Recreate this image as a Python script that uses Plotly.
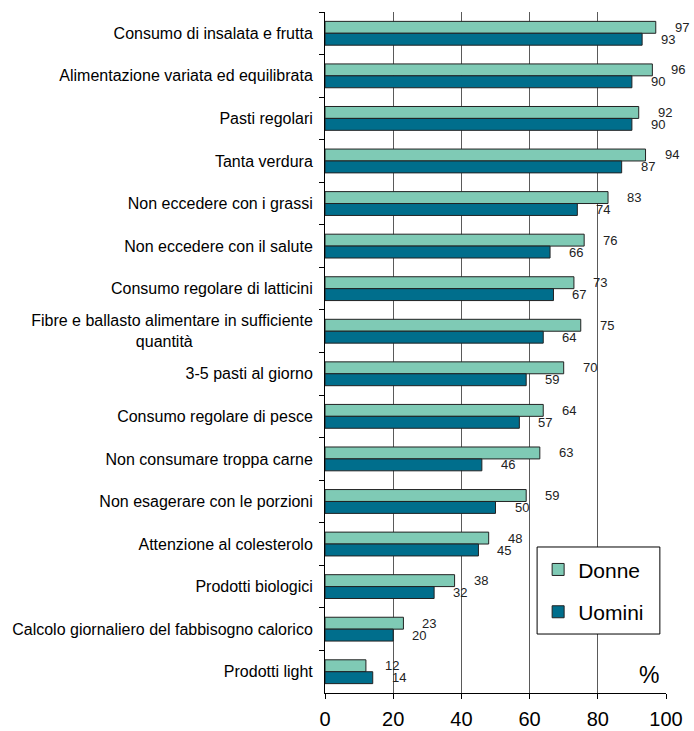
import plotly.graph_objects as go

categories = [
    "Consumo di insalata e frutta",
    "Alimentazione variata ed equilibrata",
    "Pasti regolari",
    "Tanta verdura",
    "Non eccedere con i grassi",
    "Non eccedere con il salute",
    "Consumo regolare di latticini",
    "Fibre e ballasto alimentare in sufficiente<br>quantità" + "\u00a0" * 27,
    "3-5 pasti al giorno",
    "Consumo regolare di pesce",
    "Non consumare troppa carne",
    "Non esagerare con le porzioni",
    "Attenzione al colesterolo",
    "Prodotti biologici",
    "Calcolo giornaliero del fabbisogno calorico",
    "Prodotti light",
]
donne = [97, 96, 92, 94, 83, 76, 73, 75, 70, 64, 63, 59, 48, 38, 23, 12]
uomini = [93, 90, 90, 87, 74, 66, 67, 64, 59, 57, 46, 50, 45, 32, 20, 14]
x_ticks = [0, 20, 40, 60, 80, 100]

fig = go.Figure()
fig.add_trace(go.Bar(
    y=categories, x=donne, orientation="h", name="Donne",
    marker=dict(color="#7FCAB5", line=dict(color="#222222", width=1)),
    legendgroup="d",
))
fig.add_trace(go.Bar(
    y=categories, x=uomini, orientation="h", name="Uomini",
    marker=dict(color="#006E8C", line=dict(color="#222222", width=1)),
    legendgroup="u",
))

annotations = []
for c, d, u in zip(categories, donne, uomini):
    annotations.append(dict(x=d, y=c, xref="x", yref="y", text=str(d), showarrow=False,
                            xanchor="left", yanchor="middle", xshift=17, yshift=6,
                            font=dict(size=13, color="#222222")))
    annotations.append(dict(x=u, y=c, xref="x", yref="y", text=str(u), showarrow=False,
                            xanchor="left", yanchor="middle", xshift=17, yshift=-6,
                            font=dict(size=13, color="#222222")))
annotations.append(dict(x=0.985, y=0.005, xref="paper", yref="paper", text="%", showarrow=False,
                        xanchor="right", yanchor="bottom", font=dict(size=23, color="#000000")))

fig.update_layout(
    width=694, height=731,
    margin=dict(l=325, r=28, t=12, b=38, autoexpand=False),
    barmode="group", bargap=0.44, bargroupgap=0,
    plot_bgcolor="white", paper_bgcolor="white",
    font=dict(family="Liberation Sans, Arial, sans-serif", color="#000000"),
    showlegend=True,
    legend=dict(
        x=0.625, y=0.211, xanchor="left", yanchor="top",
        bgcolor="rgba(0,0,0,0)", borderwidth=0,
        font=dict(size=21), traceorder="grouped", tracegroupgap=12,
        itemwidth=30,
    ),
    shapes=[dict(type="rect", xref="paper", yref="paper",
                 x0=0.622, x1=0.982, y0=0.0866, y1=0.2144,
                 line=dict(color="#000000", width=1), fillcolor="white", layer="above")],
    annotations=annotations,
)
fig.update_xaxes(
    range=[0, 100], tickvals=x_ticks, showgrid=True, gridcolor="#5a5a5a", gridwidth=1,
    showline=True, linecolor="#000000", ticks="outside", ticklen=5, tickcolor="#000000",
    tickfont=dict(size=20), zeroline=False, automargin=False, ticklabelstandoff=3,
)
fig.update_yaxes(
    autorange="reversed", showline=True, linecolor="#000000", linewidth=1,
    ticks="outside", tickson="boundaries", ticklen=5, tickcolor="#000000",
    tickfont=dict(size=16), ticklabelstandoff=8, automargin=False,
)

fig.write_html(
    "out.html",
    config={"displayModeBar": False},
    post_script="document.body.style.margin='0';document.body.style.overflow='hidden';",
)
